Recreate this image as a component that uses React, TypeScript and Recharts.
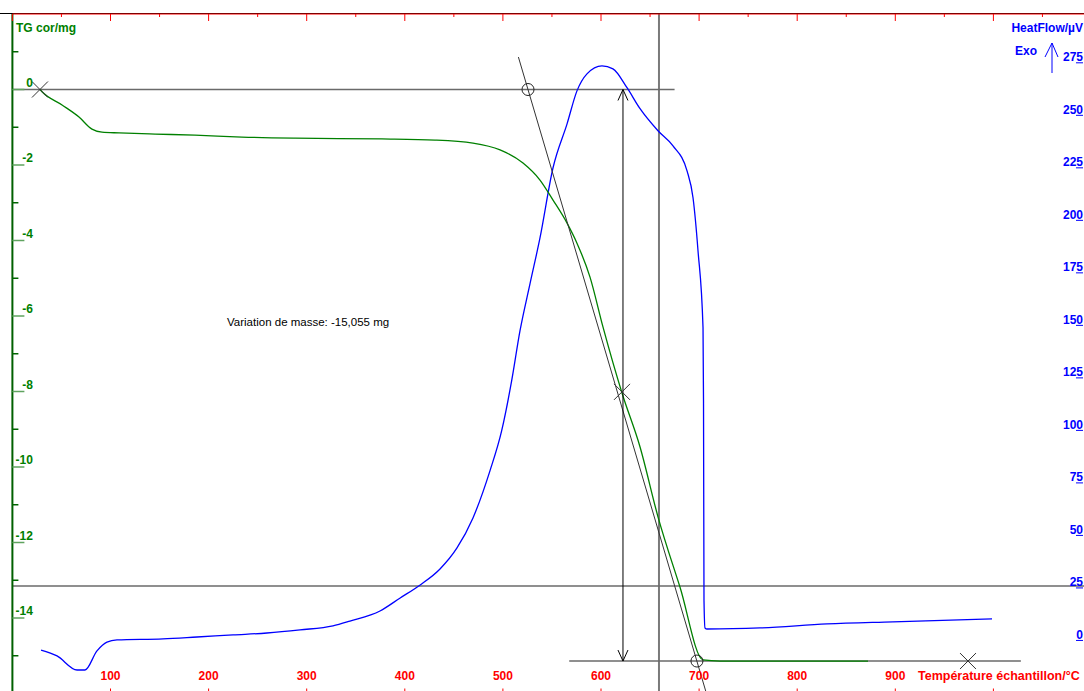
import React from 'react';
import { ComposedChart, Line, XAxis, YAxis, ReferenceLine, ReferenceDot } from 'recharts';

// TG curve (mass, mg) vs sample temperature (°C)
const tgTemps = [28.1, 30.2, 50.6, 67.9, 81.1, 91.3, 108.7, 145.4, 186.1, 234.0, 288.1, 376.7, 430.8, 469.5, 497.1, 520.5, 537.8, 551.1, 565.4, 575.5, 588.8, 602.0, 621.4, 639.8, 658.1, 680.5, 704.0, 721.3, 872.2];
const tgValues = [0, -0.06, -0.41, -0.73, -1.05, -1.13, -1.15, -1.18, -1.21, -1.26, -1.29, -1.31, -1.34, -1.42, -1.60, -1.95, -2.40, -2.93, -3.54, -4.07, -4.97, -6.29, -8.04, -9.47, -11.32, -13.18, -15.11, -15.14, -15.14];

// Heat flow (µV) vs sample temperature (°C)
const hfTemps = [29.2, 45.5, 65.9, 74.0, 86.2, 96.4, 106.6, 153.5, 188.2, 224.9, 259.5, 293.2, 326.8, 344.1, 374.7, 395.3, 415.7, 435.9, 453.2, 469.5, 486.8, 498.7, 508.9, 517.4, 527.6, 537.8, 551.1, 565.4, 575.5, 585.7, 601.0, 612.2, 626.5, 639.8, 658.1, 673.4, 687.7, 693.8, 698.9, 704.0, 704.5, 705.0, 706.0, 708.1, 762.1, 830.4, 897.6, 998.6];
const hfValues = [-4.8, -7.6, -14.3, -14.3, -5.2, -1.0, 0, 0.5, 1.4, 2.4, 3.3, 4.8, 6.7, 9.0, 13.8, 20.0, 26.2, 33.8, 43.8, 58.1, 80.5, 99.5, 123.3, 147.1, 169.5, 191.4, 224.8, 245.7, 261.4, 269.5, 273.3, 271.9, 262.9, 252.9, 242.4, 235.2, 223.3, 210.5, 185.2, 148.6, 113.8, 18.6, 5.7, 5.2, 5.7, 7.6, 8.6, 10.0];

// Axes
const xDomain = [0, 1100];
const xBottomTicks = [100, 200, 300, 400, 500, 600, 700, 800, 900, 1000];
const xBottomLabelMax = 900;
const xTopTicks = [0, 50, 100, 150, 200, 250, 300, 350, 400, 450, 500, 550, 600, 650, 700, 750, 800, 850, 900, 950, 1000, 1050, 1100];
const tgDomain = [-16, 2];
const tgTicks = [-15, -14, -13, -12, -11, -10, -9, -8, -7, -6, -5, -4, -3, -2, -1, 0, 1];
const hfDomain = [-25.5, 298];
const hfTicks = [0, 25, 50, 75, 100, 125, 150, 175, 200, 225, 250, 275];

// Analysis annotations (data coordinates)
const tangentT = [515.8, 707.5];
const tangentTG = [0.86, -16];
const crossT = [28.1, 621.4, 974.1];
const crossTG = [0, -8.01, -15.14];
const circleT = [525.6, 697.8];
const circleTG = [0, -15.14];
const zeroLineT = [0, 675];
const zeroLevel = 0;
const finalLineT = [567.6, 1028];
const finalLevel = -15.14;
const arrowT = 622.4;
const cursorT = 659.1;
const baselineTG = -13.15;
const massText = 'Variation de masse: -15,055 mg';

const tgData = tgTemps.map((t, i) => ({ t, v: tgValues[i] }));
const hfData = hfTemps.map((t, i) => ({ t, v: hfValues[i] }));

const FONT = '"Liberation Sans", Arial, sans-serif';
const GREEN = '#008000';
const BLUE = '#0000ff';
const RED = '#ff0000';
const GRAY = '#6a6a6a';

const TgTick = (props: any) => {
  const { y, payload } = props;
  const v = payload.value;
  const major = v % 2 === 0;
  const ax = 12.4;
  return (
    <g>
      <line x1={ax} x2={ax + (major ? 12 : 6)} y1={y} y2={y} stroke={major ? '#5fa35f' : '#006400'} strokeWidth={1.5} />
      {major && (
        <text x={ax + 20.5} y={y - 3} textAnchor="end" fill={GREEN} fontWeight="bold" fontSize={12} fontFamily={FONT}>
          {v}
        </text>
      )}
    </g>
  );
};

const HfTick = (props: any) => {
  const { y, payload } = props;
  const right = 1083;
  return (
    <g>
      <line x1={right - 7} x2={right} y1={y + 0.5} y2={y + 0.5} stroke={BLUE} strokeWidth={1} />
      <text x={right} y={y - 1} textAnchor="end" fill={BLUE} fontWeight="bold" fontSize={12} fontFamily={FONT}>
        {payload.value}
      </text>
    </g>
  );
};

const BottomTick = (props: any) => {
  const { x, payload } = props;
  const v = payload.value;
  const ay = 693.5;
  return (
    <g>
      <line x1={x} x2={x} y1={ay - 5} y2={ay} stroke={RED} strokeWidth={1} />
      {v <= xBottomLabelMax && (
        <text x={x} y={ay - 13.5} textAnchor="middle" fill={RED} fontWeight="bold" fontSize={12} fontFamily={FONT}>
          {v}
        </text>
      )}
    </g>
  );
};

const TopTick = (props: any) => {
  const { x, payload } = props;
  const v = payload.value;
  const ay = 14;
  return <line x1={x} x2={x} y1={ay} y2={ay + (v % 100 === 0 ? 7 : 3)} stroke={RED} strokeWidth={1} />;
};

const CrossShape = (props: any) => {
  const { cx, cy } = props;
  const s = 8;
  return (
    <g stroke="#333" strokeWidth={1}>
      <line x1={cx - s} y1={cy - s} x2={cx + s} y2={cy + s} />
      <line x1={cx - s} y1={cy + s} x2={cx + s} y2={cy - s} />
    </g>
  );
};

const CircleShape = (props: any) => {
  const { cx, cy } = props;
  return <circle cx={cx} cy={cy} r={6} fill="none" stroke="#222" strokeWidth={1} />;
};

const DoubleArrow = (props: any) => {
  const { x1, y1, x2, y2 } = props;
  if (x1 == null || y1 == null) return null;
  const top = Math.min(y1, y2);
  const bot = Math.max(y1, y2);
  const x = x1;
  return (
    <g stroke="#000" strokeWidth={1} fill="none">
      <line x1={x} x2={x} y1={top} y2={bot} />
      <polyline points={`${x - 5},${top + 11} ${x},${top} ${x + 5},${top + 11}`} />
      <polyline points={`${x - 5},${bot - 11} ${x},${bot} ${x + 5},${bot - 11}`} />
    </g>
  );
};

export default function App() {
  return (
    <div style={{ position: 'absolute', left: 0, top: 0, width: 1084, height: 691, overflow: 'hidden', background: '#fff' }}>
      <div style={{ position: 'absolute', left: 0, top: 13, width: 1084, height: 1, background: '#000' }} />
      <div style={{ position: 'absolute', left: 0, top: 0 }}>
        <ComposedChart width={1100} height={714} margin={{ top: 4, left: 2.4, right: 0, bottom: 0.5 }}>
          <XAxis
            xAxisId="b"
            type="number"
            dataKey="t"
            domain={xDomain}
            ticks={xBottomTicks}
            interval={0}
            orientation="bottom"
            height={20}
            tickSize={0}
            tickMargin={0}
            tickLine={false}
            axisLine={false}
            tick={<BottomTick />}
            allowDataOverflow
          />
          <XAxis
            xAxisId="top"
            type="number"
            dataKey="t"
            domain={xDomain}
            ticks={xTopTicks}
            interval={0}
            orientation="top"
            height={10}
            tickSize={0}
            tickMargin={0}
            tickLine={false}
            axisLine={{ stroke: RED, strokeWidth: 1 }}
            tick={<TopTick />}
            allowDataOverflow
          />
          <YAxis
            yAxisId="tg"
            type="number"
            domain={tgDomain}
            ticks={tgTicks}
            interval={0}
            orientation="left"
            width={10}
            tickSize={0}
            tickMargin={0}
            tickLine={false}
            axisLine={{ stroke: '#006000', strokeWidth: 2 }}
            tick={<TgTick />}
            allowDataOverflow
          />
          <YAxis
            yAxisId="hf"
            type="number"
            domain={hfDomain}
            ticks={hfTicks}
            interval={0}
            orientation="right"
            width={8.5}
            tickSize={0}
            tickMargin={0}
            tickLine={false}
            axisLine={false}
            tick={<HfTick />}
            allowDataOverflow
          />

          <ReferenceLine xAxisId="b" yAxisId="tg" x={cursorT} stroke="#7a7a7a" strokeWidth={2} />
          <ReferenceLine xAxisId="b" yAxisId="tg" y={baselineTG} stroke={GRAY} strokeWidth={1.5} />
          <ReferenceLine
            xAxisId="b"
            yAxisId="tg"
            segment={[{ x: zeroLineT[0], y: zeroLevel }, { x: zeroLineT[1], y: zeroLevel }]}
            stroke={GRAY}
            strokeWidth={1.5}
          />
          <ReferenceLine
            xAxisId="b"
            yAxisId="tg"
            segment={[{ x: finalLineT[0], y: finalLevel }, { x: finalLineT[1], y: finalLevel }]}
            stroke={GRAY}
            strokeWidth={1.5}
          />

          <Line xAxisId="b" yAxisId="hf" data={hfData} dataKey="v" type="monotone" stroke={BLUE} strokeWidth={1.3} dot={false} isAnimationActive={false} />
          <Line xAxisId="b" yAxisId="tg" data={tgData} dataKey="v" type="monotone" stroke={GREEN} strokeWidth={1.3} dot={false} isAnimationActive={false} />

          <ReferenceLine
            xAxisId="b"
            yAxisId="tg"
            segment={[{ x: tangentT[0], y: tangentTG[0] }, { x: tangentT[1], y: tangentTG[1] }]}
            stroke="#333"
            strokeWidth={1}
          />
          <ReferenceLine
            xAxisId="b"
            yAxisId="tg"
            segment={[{ x: arrowT, y: zeroLevel }, { x: arrowT, y: finalLevel }]}
            shape={(p: any) => <DoubleArrow {...p} />}
          />

          {crossT.map((t, i) => (
            <ReferenceDot key={'c' + i} xAxisId="b" yAxisId="tg" x={t} y={crossTG[i]} r={8} shape={(p: any) => <CrossShape {...p} />} />
          ))}
          {circleT.map((t, i) => (
            <ReferenceDot key={'o' + i} xAxisId="b" yAxisId="tg" x={t} y={circleTG[i]} r={6} shape={(p: any) => <CircleShape {...p} />} />
          ))}
        </ComposedChart>
      </div>
      <svg width={1084} height={691} style={{ position: 'absolute', left: 0, top: 0, pointerEvents: 'none' }}>
        <text x={16} y={32} fill={GREEN} fontWeight="bold" fontSize={12} fontFamily={FONT}>TG cor/mg</text>
        <text x={1083} y={32} textAnchor="end" fill={BLUE} fontWeight="bold" fontSize={12} fontFamily={FONT}>HeatFlow/µV</text>
        <text x={1015} y={55} fill={BLUE} fontWeight="bold" fontSize={12} fontFamily={FONT}>Exo</text>
        <g stroke={BLUE} strokeWidth={1} fill="none">
          <line x1={1052} x2={1052} y1={43} y2={73} />
          <polyline points="1045,57 1052,43 1058,57" />
        </g>
        <text x={227} y={326} fill="#000" fontSize={11.5} fontFamily={FONT}>{massText}</text>
        <text x={918} y={679.5} fill={RED} fontWeight="bold" fontSize={12.5} fontFamily={FONT}>Température échantillon/°C</text>
      </svg>
    </div>
  );
}
